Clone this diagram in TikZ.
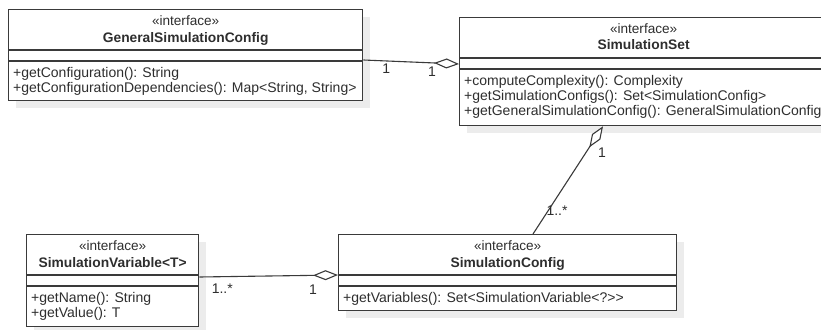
\documentclass[tikz,border=0pt]{standalone}
\usepackage{fontspec}
\setmainfont{Liberation Sans}
\usetikzlibrary{arrows.meta,shadows}

\definecolor{umlline}{HTML}{3A3A3A}
\definecolor{umltext}{HTML}{2E2E2E}
\definecolor{umlshadow}{HTML}{ECECEC}

\tikzset{
  classbox/.style={draw=umlline, line width=1.3pt, fill=white, anchor=north west,
    inner sep=0pt,
    general shadow={shadow xshift=7pt, shadow yshift=-7pt, fill=umlshadow}},
  divider/.style={draw=umlline, line width=1.3pt},
  stereo/.style={anchor=base, inner sep=0pt, text=umltext, font=\fontsize{13.6}{15}\selectfont},
  classname/.style={anchor=base, inner sep=0pt, text=umltext, font=\fontsize{13.8}{15}\selectfont\bfseries},
  member/.style={anchor=base west, inner sep=0pt, text=umltext, font=\fontsize{14}{15}\selectfont},
  mult/.style={anchor=base, inner sep=0pt, text=umltext, font=\fontsize{14}{15}\selectfont},
  assoc/.style={draw=umlline, line width=1.1pt,
    -{Diamond[open, length=25pt, width=10pt, fill=white]}},
}

% one interface box: name, top-left corner, width, height, class name
\newcommand{\iface}[5]{%
  \node[classbox, minimum width=#3pt, minimum height=#4pt] (#1) at (#2) {};
  \node[stereo] at ([yshift=-16.5pt]#1.north) {«interface»};
  \node[classname] at ([yshift=-33pt]#1.north) {#5};
  \draw[divider] ([yshift=-41pt]#1.north west) -- ([yshift=-41pt]#1.north east);
  \draw[divider] ([yshift=-52pt]#1.north west) -- ([yshift=-52pt]#1.north east);
}
\newcommand{\member}[3]{% box, line index, text
  \node[member] at ([shift={(5pt,{-68.5pt-15pt*#2})}]#1.north west) {#3};
}

\begin{document}
\begin{tikzpicture}[x=1pt, y=-1pt]
  \clip (0,0) rectangle (821,329);
  \fill[white] (0,0) rectangle (821,329);

  \iface{gsc}{8,9}{354}{91}{GeneralSimulationConfig}
  \member{gsc}{0}{+getConfiguration(): String}
  \member{gsc}{1}{+getConfigurationDependencies(): Map<String, String>}

  \iface{sset}{459,17}{368}{108}{SimulationSet}
  \member{sset}{0}{+computeComplexity(): Complexity}
  \member{sset}{1}{+getSimulationConfigs(): Set<SimulationConfig>}
  \member{sset}{2}{+getGeneralSimulationConfig(): GeneralSimulationConfig}

  \iface{svar}{26,234}{172}{92}{SimulationVariable<T>}
  \member{svar}{0}{+getName(): String}
  \member{svar}{1}{+getValue(): T}

  \iface{sconf}{338,234}{338}{76}{SimulationConfig}
  \member{sconf}{0}{+getVariables(): Set<SimulationVariable<?>{}>}

  % connector end points on the box borders
  \coordinate (gscR)  at ([yshift=-51pt]gsc.north east);
  \coordinate (ssetL) at ([yshift=-47pt]sset.north west);
  \coordinate (ssetB) at ([xshift=144pt]sset.south west);
  \coordinate (sconfT) at ([xshift=195pt]sconf.north west);
  \coordinate (svarR) at ([yshift=-43pt]svar.north east);
  \coordinate (sconfL) at ([yshift=-41pt]sconf.north west);

  % aggregations
  \draw[assoc] (gscR) -- (ssetL);
  \draw[assoc] (sconfT) -- (ssetB);
  \draw[assoc] (svarR) -- (sconfL);

  % multiplicities
  \node[mult] (m1) at ([shift={(23pt,-14pt)}]gscR) {1};
  \node[mult] (m2) at ([shift={(-27pt,-12pt)}]ssetL) {1};
  \node[mult] (m3) at ([shift={(-1pt,-31pt)}]ssetB) {1};
  \node[mult] (m4) at ([shift={(24pt,19pt)}]sconfT) {1..*};
  \node[mult] (m5) at ([shift={(23pt,-16pt)}]svarR) {1..*};
  \node[mult] (m6) at ([shift={(-25pt,-19pt)}]sconfL) {1};
\end{tikzpicture}
\end{document}
